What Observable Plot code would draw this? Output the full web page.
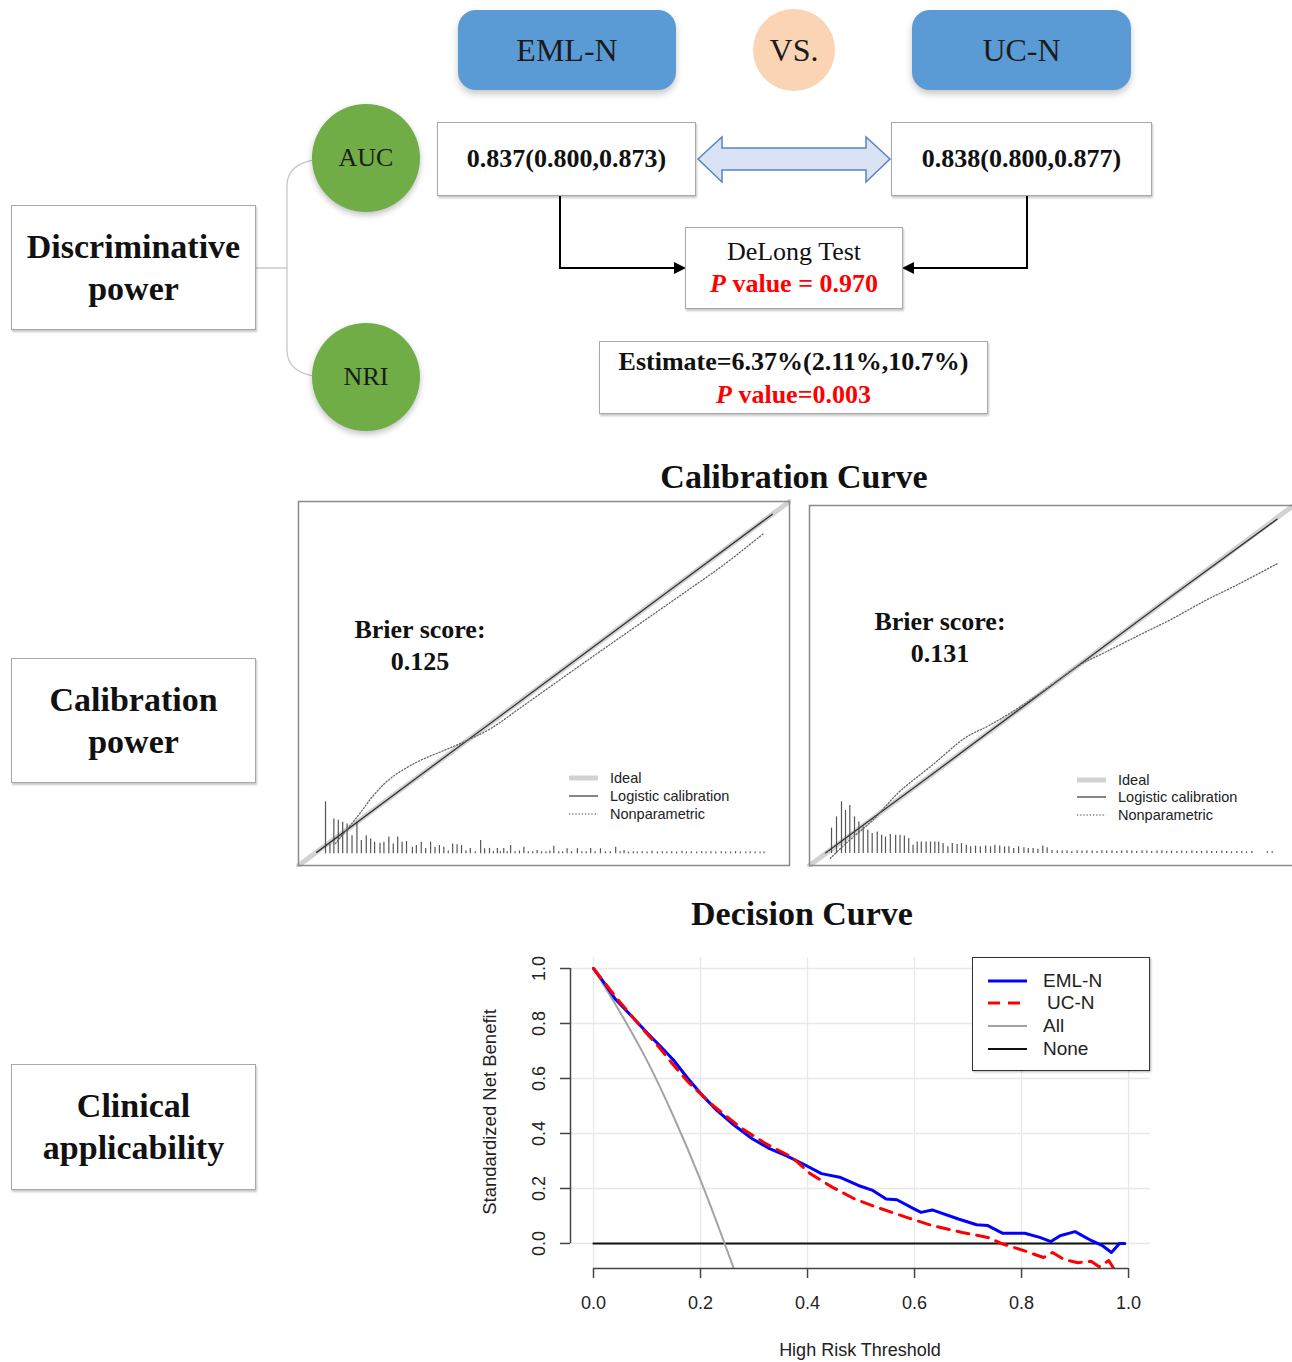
<!DOCTYPE html>
<html>
<head>
<meta charset="utf-8">
<script src="https://cdn.jsdelivr.net/npm/d3@7"></script>
<script src="https://cdn.jsdelivr.net/npm/@observablehq/plot@0.6"></script>
<style>
html,body{margin:0;padding:0;background:#fff;overflow:hidden}
#root{position:relative;width:1292px;height:1362px;overflow:hidden;font-family:"Liberation Serif","Times New Roman",serif;color:#111}
.box{position:absolute;box-sizing:border-box;border:1px solid #a8a8a8;background:#fff;display:flex;flex-direction:column;align-items:center;justify-content:center;text-align:center;box-shadow:1px 2px 2px rgba(0,0,0,0.22)}
.pill{position:absolute;box-sizing:border-box;background:#5b9bd5;border-radius:18px;display:flex;align-items:center;justify-content:center;font-size:32px;color:#1b1b1b;box-shadow:0 4px 7px rgba(0,0,0,0.22)}
.circ{position:absolute;border-radius:50%;display:flex;align-items:center;justify-content:center;font-size:26px;color:#1b1b1b;box-shadow:0 3px 6px rgba(0,0,0,0.25)}
.red{color:#ff0000;font-weight:bold}
.abs{position:absolute}
.leg{position:absolute;font-family:"Liberation Sans",Arial,sans-serif;font-size:14.5px;color:#222}
</style>
</head>
<body>
<div id="root"></div>
<script>
// ---------------- DATA ----------------
const models = ["EML-N", "UC-N"];
const vsLabel = "VS.";
const metricLabels = ["AUC", "NRI"];
const aucCI = ["0.837(0.800,0.873)", "0.838(0.800,0.877)"];
const delongP = "0.970";
const nriEstimate = "6.37%(2.11%,10.7%)";
const nriP = "0.003";
const sectionLabels = [["Discriminative", "power"], ["Calibration", "power"], ["Clinical", "applicability"]];
const brierScores = ["0.125", "0.131"];
const calLegend = ["Ideal", "Logistic calibration", "Nonparametric"];
const dcaLegend = ["EML-N", "UC-N", "All", "None"];

// Calibration, left panel (EML-N)
const idealX = [0, 1];
const idealY = [0, 1];
const calLeftLogX = [0.037, 0.25, 0.5, 0.75, 0.965];
const calLeftLogY = [0.036, 0.25, 0.5, 0.75, 0.965];
const calLeftNpX = [0.075, 0.122, 0.153, 0.187, 0.241, 0.289, 0.336, 0.391, 0.459, 0.527, 0.594, 0.662, 0.73, 0.798, 0.866, 0.948];
const calLeftNpY = [0.06, 0.138, 0.193, 0.239, 0.284, 0.312, 0.339, 0.376, 0.44, 0.505, 0.569, 0.633, 0.697, 0.761, 0.826, 0.913];
const calLeftSpikeX = [0.055, 0.064, 0.072, 0.081, 0.090, 0.099, 0.109, 0.119, 0.128, 0.138, 0.147, 0.155, 0.166, 0.174, 0.184, 0.193, 0.202, 0.211, 0.220, 0.232, 0.240, 0.250, 0.259, 0.269, 0.278, 0.287, 0.296, 0.305, 0.314, 0.323, 0.332, 0.341, 0.350, 0.360, 0.371, 0.379, 0.389, 0.397, 0.405, 0.411, 0.418, 0.425, 0.432, 0.441, 0.450, 0.459, 0.468, 0.477, 0.486, 0.495, 0.504, 0.512, 0.520, 0.530, 0.538, 0.547, 0.556, 0.568, 0.577, 0.586, 0.595, 0.604, 0.615, 0.625, 0.635, 0.646, 0.655, 0.663, 0.672, 0.682, 0.690, 0.700, 0.710, 0.720, 0.731, 0.741, 0.750, 0.760, 0.770, 0.781, 0.790, 0.800, 0.811, 0.821, 0.830, 0.840, 0.850, 0.861, 0.870, 0.880, 0.890, 0.900, 0.911, 0.920, 0.930, 0.940, 0.948];
const calLeftSpikeH = [0.143, 0.027, 0.096, 0.092, 0.087, 0.082, 0.050, 0.087, 0.037, 0.050, 0.041, 0.032, 0.029, 0.032, 0.046, 0.027, 0.046, 0.032, 0.034, 0.018, 0.023, 0.032, 0.015, 0.032, 0.018, 0.023, 0.018, 0.008, 0.027, 0.025, 0.023, 0.008, 0.015, 0.006, 0.037, 0.014, 0.015, 0.006, 0.015, 0.006, 0.015, 0.006, 0.023, 0.006, 0.008, 0.018, 0.006, 0.006, 0.009, 0.006, 0.006, 0.008, 0.021, 0.006, 0.006, 0.014, 0.006, 0.014, 0.006, 0.006, 0.015, 0.006, 0.014, 0.006, 0.006, 0.018, 0.006, 0.009, 0.005, 0.006, 0.005, 0.006, 0.005, 0.007, 0.005, 0.006, 0.005, 0.006, 0.005, 0.007, 0.005, 0.006, 0.005, 0.006, 0.005, 0.006, 0.005, 0.006, 0.005, 0.005, 0.006, 0.005, 0.005, 0.006, 0.005, 0.005, 0.005];
const calLeftBase = 0.032;

// Calibration, right panel (UC-N)
const calRightLogX = [0.033, 0.25, 0.5, 0.75, 0.966];
const calRightLogY = [0.035, 0.25, 0.5, 0.75, 0.962];
const calRightNpX = [0.043, 0.074, 0.13, 0.185, 0.253, 0.322, 0.371, 0.439, 0.508, 0.557, 0.612, 0.68, 0.749, 0.818, 0.887, 0.966];
const calRightNpY = [0.02, 0.06, 0.125, 0.204, 0.278, 0.355, 0.389, 0.444, 0.509, 0.556, 0.593, 0.639, 0.685, 0.736, 0.782, 0.838];
const calRightSpikeX = [0.0455, 0.0558, 0.0661, 0.0744, 0.0833, 0.093, 0.102, 0.111, 0.1205, 0.1295, 0.14, 0.149, 0.157, 0.167, 0.178, 0.187, 0.196, 0.205, 0.214, 0.2225, 0.231, 0.241, 0.25, 0.259, 0.267, 0.276, 0.286, 0.295, 0.305, 0.314, 0.324, 0.333, 0.343, 0.353, 0.364, 0.374, 0.383, 0.393, 0.403, 0.412, 0.422, 0.432, 0.443, 0.452, 0.462, 0.472, 0.482, 0.491, 0.501, 0.512, 0.522, 0.532, 0.542, 0.553, 0.563, 0.573, 0.584, 0.594, 0.604, 0.614, 0.625, 0.635, 0.645, 0.656, 0.666, 0.676, 0.687, 0.697, 0.707, 0.718, 0.728, 0.738, 0.748, 0.759, 0.769, 0.779, 0.79, 0.8, 0.81, 0.821, 0.831, 0.841, 0.852, 0.862, 0.872, 0.883, 0.893, 0.903, 0.914, 0.946, 0.956];
const calRightSpikeH = [0.071, 0.102, 0.144, 0.12, 0.134, 0.102, 0.088, 0.074, 0.065, 0.056, 0.06, 0.051, 0.046, 0.053, 0.051, 0.051, 0.049, 0.042, 0.023, 0.032, 0.032, 0.032, 0.032, 0.032, 0.032, 0.028, 0.019, 0.028, 0.025, 0.028, 0.023, 0.019, 0.021, 0.019, 0.021, 0.019, 0.023, 0.021, 0.019, 0.019, 0.014, 0.019, 0.016, 0.014, 0.014, 0.012, 0.021, 0.016, 0.009, 0.008, 0.007, 0.008, 0.006, 0.008, 0.007, 0.008, 0.007, 0.006, 0.008, 0.007, 0.008, 0.006, 0.007, 0.008, 0.007, 0.006, 0.008, 0.007, 0.006, 0.007, 0.008, 0.006, 0.007, 0.006, 0.007, 0.006, 0.007, 0.006, 0.006, 0.007, 0.006, 0.006, 0.007, 0.006, 0.005, 0.006, 0.006, 0.005, 0.006, 0.005, 0.005];
const calRightBase = 0.033;

// Decision curve
const dcaTicks = [0, 0.2, 0.4, 0.6, 0.8, 1.0];
const emlT = [0, 0.02, 0.041, 0.074, 0.1, 0.125, 0.149, 0.176, 0.2, 0.23, 0.263, 0.296, 0.329, 0.362, 0.391, 0.426, 0.46, 0.495, 0.522, 0.547, 0.567, 0.599, 0.612, 0.633, 0.682, 0.716, 0.737, 0.765, 0.806, 0.834, 0.855, 0.872, 0.9, 0.931, 0.952, 0.968, 0.983, 0.993];
const emlV = [1.0, 0.948, 0.888, 0.821, 0.766, 0.717, 0.668, 0.601, 0.546, 0.485, 0.43, 0.382, 0.345, 0.318, 0.29, 0.254, 0.241, 0.211, 0.193, 0.162, 0.159, 0.126, 0.113, 0.122, 0.089, 0.068, 0.065, 0.037, 0.037, 0.022, 0.007, 0.028, 0.043, 0.01, -0.009, -0.033, 0.0, 0.0];
const ucT = [0, 0.045, 0.093, 0.121, 0.149, 0.176, 0.218, 0.273, 0.322, 0.37, 0.405, 0.446, 0.488, 0.529, 0.585, 0.633, 0.689, 0.737, 0.765, 0.806, 0.841, 0.858, 0.879, 0.905, 0.93, 0.945, 0.963, 0.975];
const ucV = [1.0, 0.888, 0.778, 0.717, 0.65, 0.589, 0.51, 0.424, 0.363, 0.315, 0.254, 0.205, 0.162, 0.132, 0.095, 0.065, 0.04, 0.022, -0.002, -0.027, -0.051, -0.033, -0.058, -0.07, -0.065, -0.085, -0.062, -0.1];
const allT = [0, 0.05, 0.1, 0.15, 0.2, 0.245, 0.262];
const allV = [1.0, 0.84, 0.665, 0.46, 0.23, 0.0, -0.09];
const noneT = [0, 0.99];
const noneV = [0, 0];

// ---------------- LAYOUT ----------------
const root = document.getElementById("root");
function el(cls, html, css) {
  const d = document.createElement("div");
  if (cls) d.className = cls;
  d.innerHTML = html;
  Object.assign(d.style, css);
  root.appendChild(d);
  return d;
}
const px = v => v + "px";

// connectors (diagram)
const ns = "http://www.w3.org/2000/svg";
const conn = document.createElementNS(ns, "svg");
conn.setAttribute("width", 1292); conn.setAttribute("height", 1362);
conn.style.position = "absolute"; conn.style.left = "0"; conn.style.top = "0";
conn.innerHTML = `
  <path d="M256,268 H287 M314,160 C296,163 287,172 287,186 V350 C287,364 296,373 314,376" fill="none" stroke="#c9c9c9" stroke-width="1.3"/>
  <path d="M560,196 V268 H676 M1027,196 V268 H912" fill="none" stroke="#000" stroke-width="2"/>
  <polygon points="674,262 686,268 674,274" fill="#000"/>
  <polygon points="914,262 902,268 914,274" fill="#000"/>
  <polygon points="698,159 722,137 722,148 866,148 866,137 890,159 866,182 866,170 722,170 722,182" fill="#dae3f3" stroke="#5a83c5" stroke-width="1.5"/>
`;
root.appendChild(conn);

// top header
el("pill", models[0], {left: px(458), top: px(10), width: px(218), height: px(80)});
el("circ", vsLabel, {left: px(753), top: px(9), width: px(82), height: px(82), background: "#fad4b4", fontSize: "32px", boxShadow: "none"});
el("pill", models[1], {left: px(912), top: px(10), width: px(219), height: px(80)});

// metric circles
el("circ", metricLabels[0], {left: px(312), top: px(104), width: px(108), height: px(108), background: "#70ad47"});
el("circ", metricLabels[1], {left: px(312), top: px(323), width: px(108), height: px(108), background: "#70ad47"});

// section boxes
const secBoxes = [[205, 330], [658, 783], [1064, 1190]];
sectionLabels.forEach((lines, i) => {
  el("box", lines.join("<br>"), {left: px(11), top: px(secBoxes[i][0]), width: px(245), height: px(secBoxes[i][1] - secBoxes[i][0]),
    fontSize: "34px", fontWeight: "bold", lineHeight: "42px"});
});

// AUC boxes
el("box", aucCI[0], {left: px(437), top: px(122), width: px(259), height: px(74), fontSize: "26px", fontWeight: "bold"});
el("box", aucCI[1], {left: px(891), top: px(122), width: px(261), height: px(74), fontSize: "26px", fontWeight: "bold"});
el("box", `<div>DeLong Test</div><div class="red"><i>P</i> value = ${delongP}</div>`,
  {left: px(685), top: px(227), width: px(218), height: px(82), fontSize: "26px", lineHeight: "32px"});
el("box", `<div style="font-weight:bold">Estimate=${nriEstimate}</div><div class="red"><i>P</i> value=${nriP}</div>`,
  {left: px(599), top: px(341), width: px(389), height: px(73), fontSize: "26px", lineHeight: "33px"});

// section titles
function centerText(txt, cx, cy, css) {
  return el("", txt, Object.assign({position: "absolute", left: px(cx - 300), width: "600px", textAlign: "center", top: px(cy - 20), lineHeight: "40px"}, css));
}
centerText("Calibration Curve", 794, 477, {fontSize: "34px", fontWeight: "bold"});
centerText("Decision Curve", 802, 914, {fontSize: "34px", fontWeight: "bold"});

// ---------------- CALIBRATION PLOTS ----------------
function calPlot(logX, logY, npX, npY, spikeX, spikeH, base, w, h) {
  const ideal = idealX.map((x, i) => ({x, y: idealY[i]}));
  const logi = logX.map((x, i) => ({x, y: logY[i]}));
  const np = npX.map((x, i) => ({x, y: npY[i]}));
  const spikes = spikeX.map((x, i) => ({x, y1: base, y2: base + spikeH[i]}));
  return Plot.plot({
    width: w + 4, height: h + 4, margin: 2,
    x: {domain: [0, 1], axis: null},
    y: {domain: [0, 1], axis: null},
    style: {background: "transparent"},
    marks: [
      Plot.line(ideal, {x: "x", y: "y", stroke: "#d2d2d2", strokeWidth: 5}),
      Plot.ruleX(spikes, {x: "x", y1: "y1", y2: "y2", stroke: "#555", strokeWidth: 1.2}),
      Plot.line(logi, {x: "x", y: "y", stroke: "#333", strokeWidth: 1.3}),
      Plot.line(np, {x: "x", y: "y", stroke: "#666", strokeWidth: 1.3, strokeDasharray: "1.2,2", curve: "catmull-rom"}),
      Plot.frame({stroke: "#8a8a8a", strokeWidth: 1.5})
    ]
  });
}
const calL = calPlot(calLeftLogX, calLeftLogY, calLeftNpX, calLeftNpY, calLeftSpikeX, calLeftSpikeH, calLeftBase, 491, 364);
Object.assign(calL.style, {position: "absolute", left: "296px", top: "499px"});
root.appendChild(calL);
const calR = calPlot(calRightLogX, calRightLogY, calRightNpX, calRightNpY, calRightSpikeX, calRightSpikeH, calRightBase, 484, 360);
Object.assign(calR.style, {position: "absolute", left: "807px", top: "503px"});
root.appendChild(calR);

// Brier annotations
[[420, 630, 662], [940, 622, 654]].forEach(([cx, y1, y2], i) => {
  centerText("Brier score:", cx, y1, {fontSize: "26px", fontWeight: "bold"});
  centerText(brierScores[i], cx, y2, {fontSize: "26px", fontWeight: "bold"});
});

// calibration legends
function calLegendAt(x0, ys) {
  const styles = [
    `stroke="#d2d2d2" stroke-width="5"`,
    `stroke="#444" stroke-width="1.3"`,
    `stroke="#777" stroke-width="1.3" stroke-dasharray="1.2,2"`
  ];
  calLegend.forEach((lab, i) => {
    el("leg", `<svg width="30" height="10" style="position:absolute;left:0;top:4px"><line x1="0" x2="29" y1="5" y2="5" ${styles[i]}/></svg><span style="position:absolute;left:${41}px;top:0;white-space:nowrap;line-height:18px">${lab}</span>`,
      {left: px(x0), top: px(ys[i] - 9), width: "200px", height: "18px"});
  });
}
calLegendAt(569, [778, 796, 814]);
calLegendAt(1077, [780, 797, 815]);

// ---------------- DECISION CURVE ----------------
const rows = (t, v) => t.map((d, i) => ({t: d, v: v[i]}));
const xDom = [-0.043, 1.041];
const yDom = [-0.091, 1.04];
const dca = Plot.plot({
  width: 700, height: 420,
  marginLeft: 100, marginRight: 20, marginTop: 17, marginBottom: 92,
  x: {domain: xDom},
  y: {domain: yDom},
  style: {fontFamily: '"Liberation Sans", Arial, sans-serif', fontSize: "18px", color: "#222", background: "transparent"},
  marks: [
    Plot.ruleX(dcaTicks, {stroke: "#e8e8e8", strokeWidth: 1.3}),
    Plot.ruleY(dcaTicks, {stroke: "#e8e8e8", strokeWidth: 1.3}),
    Plot.line(rows(noneT, noneV), {x: "t", y: "v", stroke: "#111", strokeWidth: 2.2}),
    Plot.line(rows(allT, allV), {x: "t", y: "v", stroke: "#a3a3a3", strokeWidth: 2, curve: "monotone-x", clip: true}),
    Plot.line(rows(emlT, emlV), {x: "t", y: "v", stroke: "#0000ff", strokeWidth: 3, clip: true}),
    Plot.line(rows(ucT, ucV), {x: "t", y: "v", stroke: "#ff0000", strokeWidth: 3, strokeDasharray: "12,8", clip: true}),
    Plot.ruleY([yDom[0]], {x1: dcaTicks[0], x2: dcaTicks[dcaTicks.length - 1], stroke: "#444", strokeWidth: 1.5}),
    Plot.axisX(dcaTicks, {anchor: "bottom", tickSize: 10, tickPadding: 18, tickFormat: d3.format(".1f"), label: null, stroke: "#444", strokeWidth: 1.5}),
    Plot.ruleX([xDom[0]], {y1: dcaTicks[0], y2: dcaTicks[dcaTicks.length - 1], stroke: "#444", strokeWidth: 1.5}),
    Plot.axisY(dcaTicks, {anchor: "left", tickSize: 10, tickPadding: 16, tickRotate: -90, tickFormat: d3.format(".1f"), label: null, stroke: "#444", strokeWidth: 1.5})
  ]
});
Object.assign(dca.style, {position: "absolute", left: "470px", top: "940px"});
root.appendChild(dca);

// axis titles
el("", "High Risk Threshold", {position: "absolute", left: "560px", width: "600px", textAlign: "center", top: "1339px", lineHeight: "22px",
  fontFamily: '"Liberation Sans", Arial, sans-serif', fontSize: "18px", color: "#222"});
el("", "Standardized Net Benefit", {position: "absolute", left: px(490 - 150), top: px(1112 - 11), width: "300px", textAlign: "center", lineHeight: "22px",
  transform: "rotate(-90deg)", fontFamily: '"Liberation Sans", Arial, sans-serif', fontSize: "18.5px", color: "#222"});

// DCA legend
const legStyles = [
  `stroke="#0000ff" stroke-width="3"`,
  `stroke="#ff0000" stroke-width="3" stroke-dasharray="12,8"`,
  `stroke="#a3a3a3" stroke-width="2"`,
  `stroke="#111" stroke-width="2.2"`
];
const legBox = el("", "", {position: "absolute", left: "972px", top: "957px", width: "178px", height: "114px", boxSizing: "border-box",
  border: "1.5px solid #333", background: "#fff", boxShadow: "1px 1px 2px rgba(0,0,0,0.3)"});
const legYs = [23, 45, 68, 91];
dcaLegend.forEach((lab, i) => {
  const d = document.createElement("div");
  d.style.cssText = `position:absolute;left:0;top:${legYs[i] - 11}px;width:176px;height:22px;font-family:"Liberation Sans",Arial,sans-serif;font-size:19px;color:#222`;
  d.innerHTML = `<svg width="60" height="22" style="position:absolute;left:0;top:0"><line x1="15" x2="54" y1="11" y2="11" ${legStyles[i]}/></svg><span style="position:absolute;left:${i === 1 ? 74 : 70}px;top:0;line-height:22px">${lab}</span>`;
  legBox.appendChild(d);
});
</script>
</body>
</html>
